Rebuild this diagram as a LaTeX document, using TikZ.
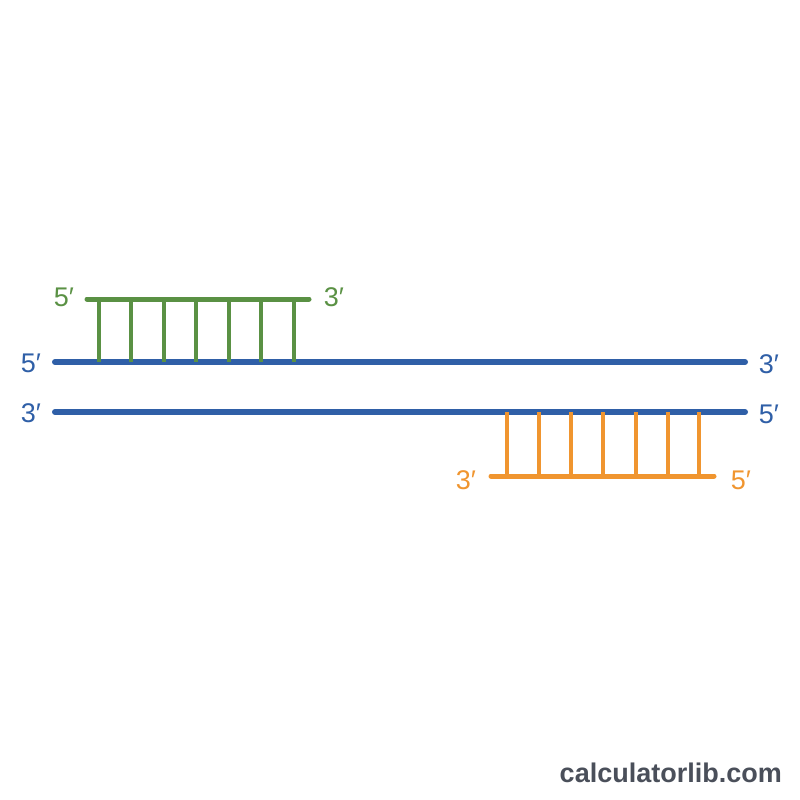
\documentclass[tikz,border=0pt]{standalone}
\usepackage{fontspec}
\setmainfont{Liberation Sans}
\definecolor{dnablue}{HTML}{2F5FA7}
\definecolor{dnagreen}{HTML}{5A9144}
\definecolor{dnaorange}{HTML}{F0952F}
\definecolor{wmgray}{HTML}{4A4F5A}
\begin{document}
\begin{tikzpicture}[x=1pt,y=-1pt,
  strand/.style={line width=6pt,line cap=round},
  rung/.style={line width=3.3pt},
  lbl/.style={font=\fontsize{27}{27}\selectfont,inner sep=0pt}]
\useasboundingbox[fill=white] (0,0) rectangle (800,800);
% blue template strands
\coordinate (b1l) at (55,362); \coordinate (b1r) at (745,362);
\coordinate (b2l) at (55,412); \coordinate (b2r) at (745,412);
\draw[strand,dnablue] (b1l) -- (b1r);
\draw[strand,dnablue] (b2l) -- (b2r);
\node[lbl,text=dnablue] (l1) at (31,363) {5′};
\node[lbl,text=dnablue] (r1) at (769,364) {3′};
\node[lbl,text=dnablue] (l2) at (31,413) {3′};
\node[lbl,text=dnablue] (r2) at (769,414) {5′};
% green primer
\coordinate (gl) at (87,299); \coordinate (gr) at (309,299);
\draw[strand,dnagreen,line width=5pt] (gl) -- (gr);
\foreach \x [count=\i] in {99,131,164,196,229,261,294}{
  \coordinate (gt\i) at (\x,299); \coordinate (gb\i) at (\x,362);
  \draw[rung,dnagreen] (gt\i) -- (gb\i);
}
\node[lbl,text=dnagreen] (gl5) at (64,297) {5′};
\node[lbl,text=dnagreen] (gr3) at (334,297) {3′};
% orange primer
\coordinate (ol) at (491,476); \coordinate (or) at (714,476);
\draw[strand,dnaorange,line width=5pt] (ol) -- (or);
\foreach \x [count=\i] in {507,539,571,603,636,668,699}{
  \coordinate (ot\i) at (\x,412); \coordinate (ob\i) at (\x,476);
  \draw[rung,dnaorange] (ot\i) -- (ob\i);
}
\node[lbl,text=dnaorange] (ol3) at (466,480) {3′};
\node[lbl,text=dnaorange] (or5) at (741,480) {5′};
% watermark
\node[font=\bfseries\fontsize{27}{27}\selectfont,text=wmgray,anchor=east,inner sep=0pt] (wm) at (782,773) {calculatorlib.com};
\end{tikzpicture}
\end{document}
